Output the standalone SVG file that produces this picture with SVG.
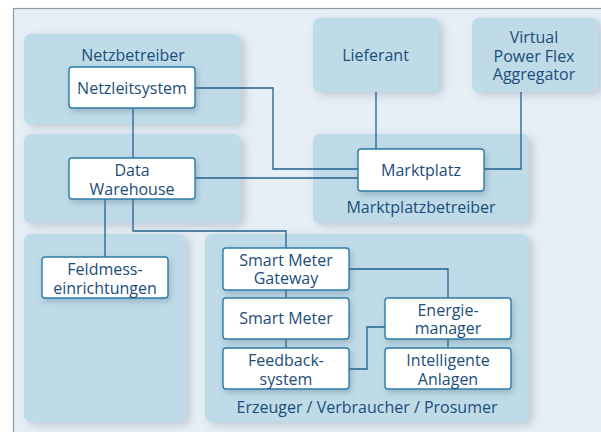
<svg xmlns="http://www.w3.org/2000/svg" width="601" height="432" viewBox="0 0 601 432">
<defs>
<filter id="psh" x="-10%" y="-10%" width="125%" height="125%">
<feDropShadow dx="4" dy="3" stdDeviation="4" flood-color="#6f8090" flood-opacity="0.35"/>
</filter>
<filter id="nsh" x="-10%" y="-10%" width="125%" height="135%">
<feDropShadow dx="2" dy="3" stdDeviation="3" flood-color="#4d6f88" flood-opacity="0.35"/>
</filter>
<style>
.panel{fill:#bfdbe7;filter:url(#psh)}
.node{fill:#ffffff;stroke:#2d7ca6;stroke-width:1.4;filter:url(#nsh)}
.t{font-family:"Open Sans","Noto Sans","Liberation Sans",sans-serif;font-size:16px;fill:#1c4d7a;text-anchor:middle}
.c{fill:none;stroke:#23608e;stroke-width:1.3}
</style>
</defs>
<rect x="0" y="0" width="601" height="432" fill="#ffffff"/>
<rect x="13.5" y="8.5" width="600" height="440" fill="#e6eef6" stroke="#8e9ca8" stroke-width="1.2"/>

<g id="panel-netzbetreiber">
<rect class="panel" x="24" y="34" width="217" height="90" rx="7"/>
<text class="t" x="133" y="61">Netzbetreiber</text>
</g>
<g id="panel-dw">
<rect class="panel" x="24" y="134" width="217" height="89" rx="7"/>
</g>
<g id="panel-feld">
<rect class="panel" x="24" y="234" width="162" height="188" rx="7"/>
</g>
<g id="panel-erzeuger">
<rect class="panel" x="205" y="234" width="324" height="188" rx="7"/>
<text class="t" x="367" y="413">Erzeuger / Verbraucher / Prosumer</text>
</g>
<g id="lieferant">
<rect class="panel" x="313" y="18" width="126" height="74" rx="7"/>
<text class="t" x="375.5" y="61">Lieferant</text>
</g>
<g id="vpfa">
<rect class="panel" x="472" y="18" width="126" height="74" rx="7"/>
<text class="t" x="534" y="43">Virtual</text>
<text class="t" x="534" y="61.5">Power Flex</text>
<text class="t" x="534" y="80">Aggregator</text>
</g>
<g id="panel-markt">
<rect class="panel" x="313" y="134" width="216" height="89" rx="7"/>
<text class="t" x="421" y="213">Marktplatzbetreiber</text>
</g>

<g id="connectors">
<path class="c" d="M133 108V158"/>
<path class="c" d="M195 88H273V169H358"/>
<path class="c" d="M195 178H358"/>
<path class="c" d="M376 92V149"/>
<path class="c" d="M521 92V169H484"/>
<path class="c" d="M105 199V257"/>
<path class="c" d="M133 199V231H286V248"/>
<path class="c" d="M286 290V298"/>
<path class="c" d="M286 339V348"/>
<path class="c" d="M349 269H448V298"/>
<path class="c" d="M448 339V348"/>
<path class="c" d="M349 369H367V327H385"/>
</g>

<g id="netzleitsystem">
<rect class="node" x="69" y="67" width="126" height="41" rx="3"/>
<text class="t" x="132" y="94">Netzleitsystem</text>
</g>
<g id="datawarehouse">
<rect class="node" x="69" y="158" width="126" height="41" rx="3"/>
<text class="t" x="132" y="175.5">Data</text>
<text class="t" x="132" y="194.5">Warehouse</text>
</g>
<g id="marktplatz">
<rect class="node" x="358" y="149" width="126" height="42" rx="3"/>
<text class="t" x="421" y="176">Marktplatz</text>
</g>
<g id="feldmess">
<rect class="node" x="42" y="257" width="126" height="41" rx="3"/>
<text class="t" x="105" y="275">Feldmess-</text>
<text class="t" x="105" y="293.5">einrichtungen</text>
</g>
<g id="smgw">
<rect class="node" x="223" y="248" width="126" height="42" rx="3"/>
<text class="t" x="286" y="265.5">Smart Meter</text>
<text class="t" x="286" y="284">Gateway</text>
</g>
<g id="smartmeter">
<rect class="node" x="223" y="298" width="126" height="41" rx="3"/>
<text class="t" x="286" y="324">Smart Meter</text>
</g>
<g id="feedback">
<rect class="node" x="223" y="348" width="126" height="41" rx="3"/>
<text class="t" x="286" y="365.5">Feedback-</text>
<text class="t" x="286" y="384.5">system</text>
</g>
<g id="energiemanager">
<rect class="node" x="385" y="298" width="126" height="41" rx="3"/>
<text class="t" x="448" y="316">Energie-</text>
<text class="t" x="448" y="334">manager</text>
</g>
<g id="anlagen">
<rect class="node" x="385" y="348" width="126" height="41" rx="3"/>
<text class="t" x="448" y="365.5">Intelligente</text>
<text class="t" x="448" y="384.5">Anlagen</text>
</g>
</svg>
